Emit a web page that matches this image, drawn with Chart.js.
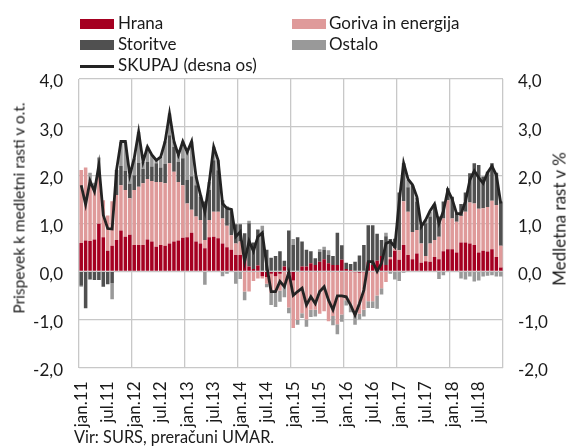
<!DOCTYPE html>
<html><head><meta charset="utf-8">
<script src="https://cdn.jsdelivr.net/npm/chart.js@4.4.0/dist/chart.umd.min.js"></script>
<style>
body{margin:0;background:#fff;}
#wrap{position:relative;width:567px;height:446px;font-family:Lato,sans-serif;color:#1a1a1a;overflow:hidden;}
canvas{position:absolute;left:0;top:0;}
.t{position:absolute;font-size:17px;line-height:17px;white-space:nowrap;}
.box{position:absolute;width:34px;height:10px;}
.rot{position:absolute;font-size:17px;line-height:17px;white-space:nowrap;transform:translate(-50%,-50%) rotate(-90deg);}
</style></head>
<body><div id="wrap"><canvas id="c" width="567" height="446"></canvas>
<div class="box" style="left:80px;top:19px;background:#a50021"></div>
<div class="t" style="left:118px;top:14px">Hrana</div>
<div class="box" style="left:292px;top:19px;background:#df9a9a"></div>
<div class="t" style="left:329px;top:14px">Goriva in energija</div>
<div class="box" style="left:80px;top:40px;background:#505050"></div>
<div class="t" style="left:118px;top:35px">Storitve</div>
<div class="box" style="left:292px;top:40px;background:#999999"></div>
<div class="t" style="left:329px;top:35px">Ostalo</div>
<div class="box" style="left:80px;top:65px;height:2.8px;background:#232323"></div>
<div class="t" style="left:118px;top:56px">SKUPAJ (desna os)</div>
<div class="rot" style="left:19px;top:208px;font-size:15.5px">Prispevek k medletni rasti v o.t.</div>
<div class="rot" style="left:559px;top:219px">Medletna rast v %</div>
<div class="t" style="left:74px;top:428px;font-size:16.3px">Vir: SURS, preračuni UMAR.</div>
</div>
<script>
const monthNames = ['jan','feb','mar','apr','maj','jun','jul','avg','sep','okt','nov','dec'];
const years = ['11','12','13','14','15','16','17','18'];
const categories = years.flatMap(y => monthNames.map(m => m + '.' + y));

const hrana = [
  0.59,0.64,0.63,0.66,0.99,0.71,0.43,0.53,0.65,0.85,0.72,0.76,
  0.55,0.55,0.55,0.66,0.62,0.51,0.55,0.53,0.58,0.62,0.64,0.70,
  0.71,0.80,0.62,0.58,0.48,0.71,0.72,0.69,0.58,0.50,0.45,0.34,
  0.34,0.27,0.10,0.05,0.12,-0.10,-0.12,-0.05,-0.10,-0.05,0.10,-0.05,
  -0.19,0.00,0.10,0.10,0.17,0.13,0.20,0.25,0.17,0.13,0.13,0.24,
  0.05,0.03,-0.02,-0.03,-0.02,0.20,0.13,0.22,0.32,0.13,0.25,0.43,
  0.24,0.55,0.34,0.25,0.37,0.18,0.21,0.20,0.30,0.25,0.42,0.46,
  0.46,0.39,0.60,0.60,0.58,0.55,0.39,0.43,0.41,0.46,0.30,0.08
];
const goriva = [
  1.52,1.52,1.25,1.07,1.01,0.77,0.73,0.93,0.94,0.94,0.97,0.76,
  1.14,1.21,1.28,1.26,1.26,1.35,1.31,1.30,1.67,1.45,1.22,1.09,
  0.70,0.48,0.52,0.49,0.17,0.36,0.52,0.55,0.52,0.45,0.30,0.24,
  0.28,-0.42,-0.42,-0.20,-0.15,-0.05,-0.14,-0.40,-0.35,-0.35,-0.30,-0.70,
  -0.99,-1.01,-0.87,-1.00,-0.80,-0.80,-0.88,-0.83,-1.04,-0.93,-1.10,-0.90,
  -0.60,-0.70,-0.90,-0.85,-0.78,-0.62,-0.62,-0.50,-0.35,-0.22,0.05,0.05,
  0.20,0.91,0.90,0.57,0.49,0.40,0.11,0.38,0.35,0.47,0.68,1.02,
  0.64,0.64,0.55,0.64,0.85,0.86,0.91,0.88,0.93,1.01,1.08,0.45
];
const storitve = [
  -0.30,-0.77,-0.17,-0.18,-0.18,-0.32,-0.27,-0.25,0.52,0.40,0.40,0.30,
  0.31,0.50,0.30,0.36,0.30,0.39,0.30,0.40,0.58,0.52,0.42,0.56,
  0.49,0.70,0.65,0.48,0.80,0.62,1.07,0.86,0.38,0.40,0.50,0.40,
  0.36,0.52,0.90,0.55,0.75,0.80,0.45,0.28,0.32,0.42,0.12,0.85,
  0.55,0.71,0.52,0.35,0.25,0.14,0.20,0.20,0.17,0.19,0.67,0.30,
  0.13,0.12,0.20,0.33,0.55,0.76,0.83,0.56,0.33,0.60,0.37,0.20,
  1.20,0.79,0.51,0.97,0.59,0.35,0.68,0.56,0.69,0.42,0.35,0.25,
  0.45,0.18,0.25,0.40,0.61,0.84,0.91,0.66,0.73,0.78,0.67,0.92
];
const ostalo = [
  -0.02,0.00,0.17,0.11,0.37,0.00,0.00,-0.33,0.00,0.50,0.60,0.18,
  0.35,0.64,0.15,0.31,0.24,0.06,0.22,0.47,0.45,0.11,0.14,0.35,
  0.58,0.72,0.18,0.04,-0.28,0.17,0.28,0.21,-0.10,-0.05,0.04,-0.26,
  -0.16,-0.18,0.05,0.00,0.00,0.15,-0.07,-0.25,-0.29,-0.23,-0.24,-0.12,
  0.12,-0.10,-0.10,-0.15,-0.15,-0.14,0.06,0.06,0.10,-0.19,-0.21,-0.15,
  -0.11,-0.15,-0.19,-0.12,-0.14,-0.14,-0.14,-0.28,-0.13,0.07,-0.05,-0.17,
  -0.20,-0.03,0.15,0.00,0.08,0.00,0.07,0.10,0.06,-0.16,-0.08,0.00,
  0.00,0.00,-0.15,-0.17,-0.11,-0.21,-0.19,-0.11,-0.09,-0.08,-0.11,-0.11
];
const skupaj = [
  1.79,1.39,1.88,1.66,2.21,1.17,0.89,0.88,2.11,2.70,2.70,2.00,
  2.35,2.90,2.28,2.59,2.42,2.31,2.38,2.70,3.28,2.70,2.42,2.70,
  2.48,2.70,1.97,1.59,1.24,1.86,2.59,2.31,1.41,1.31,1.29,0.72,
  0.82,0.20,0.63,0.42,0.72,0.80,0.12,-0.42,-0.42,-0.21,-0.32,-0.02,
  -0.50,-0.42,-0.35,-0.70,-0.53,-0.67,-0.42,-0.32,-0.60,-0.80,-0.51,-0.51,
  -0.53,-0.70,-0.91,-0.67,-0.39,0.20,0.20,0.00,0.17,0.58,0.62,0.51,
  1.45,2.25,1.92,1.80,1.55,0.93,1.07,1.26,1.40,1.00,1.25,1.69,
  1.50,1.20,1.20,1.45,1.90,2.09,1.95,1.83,2.05,2.19,2.00,1.41
];
const yTicks = [-2,-1,0,1,2,3,4];

const gridCol = '#c8c8c8';
const fnt = {family:'Lato', size:17};
const fmt = v => v.toFixed(1).replace('.', ',');

new Chart(document.getElementById('c'), {
  type: 'bar',
  data: {
    labels: categories,
    datasets: [
      {type:'line', label:'SKUPAJ (desna os)', data:skupaj, yAxisID:'y2', borderColor:'#232323', borderWidth:2.8, pointRadius:0, tension:0, order:0},
      {label:'Hrana', data:hrana, backgroundColor:'#a50021', stack:'s', order:1},
      {label:'Goriva in energija', data:goriva, backgroundColor:'#df9a9a', stack:'s', order:1},
      {label:'Storitve', data:storitve, backgroundColor:'#505050', stack:'s', order:1},
      {label:'Ostalo', data:ostalo, backgroundColor:'#999999', stack:'s', order:1}
    ]
  },
  options: {
    responsive:false, animation:false, devicePixelRatio:1,
    layout:{padding:{top:79, left:0, right:0, bottom:0}},
    plugins:{legend:{display:false}, tooltip:{enabled:false}},
    datasets:{bar:{barPercentage:0.8, categoryPercentage:1}},
    scales:{
      x:{
        stacked:true, offset:true,
        grid:{offset:true, drawTicks:false, lineWidth:1.3,
          color: c => (c.index === undefined || c.index % 12 === 0) ? gridCol : 'rgba(0,0,0,0)'},
        border:{display:false},
        ticks:{autoSkip:false, maxRotation:90, minRotation:90, padding:14, font:fnt, color:'#1a1a1a',
          callback:(v,i) => i % 6 === 0 ? categories[i] : ''},
        afterFit: s => { s.height = 78.5; }
      },
      y:{
        stacked:true, min:-2, max:4,
        afterBuildTicks: s => { s.ticks = yTicks.map(v => ({value:v})); },
        ticks:{callback: v => fmt(v), padding:16, font:fnt, color:'#1a1a1a', labelOffset:3},
        grid:{color:gridCol, lineWidth:1.3, drawTicks:false},
        border:{display:false},
        afterFit: s => { s.width = 79; }
      },
      y2:{
        position:'right', min:-2, max:4,
        afterBuildTicks: s => { s.ticks = yTicks.map(v => ({value:v})); },
        ticks:{callback: v => fmt(v), padding:15, font:fnt, color:'#1a1a1a', labelOffset:3},
        grid:{display:false, drawTicks:false},
        border:{display:false},
        afterFit: s => { s.width = 64; }
      }
    }
  }
});
</script>
</body></html>
